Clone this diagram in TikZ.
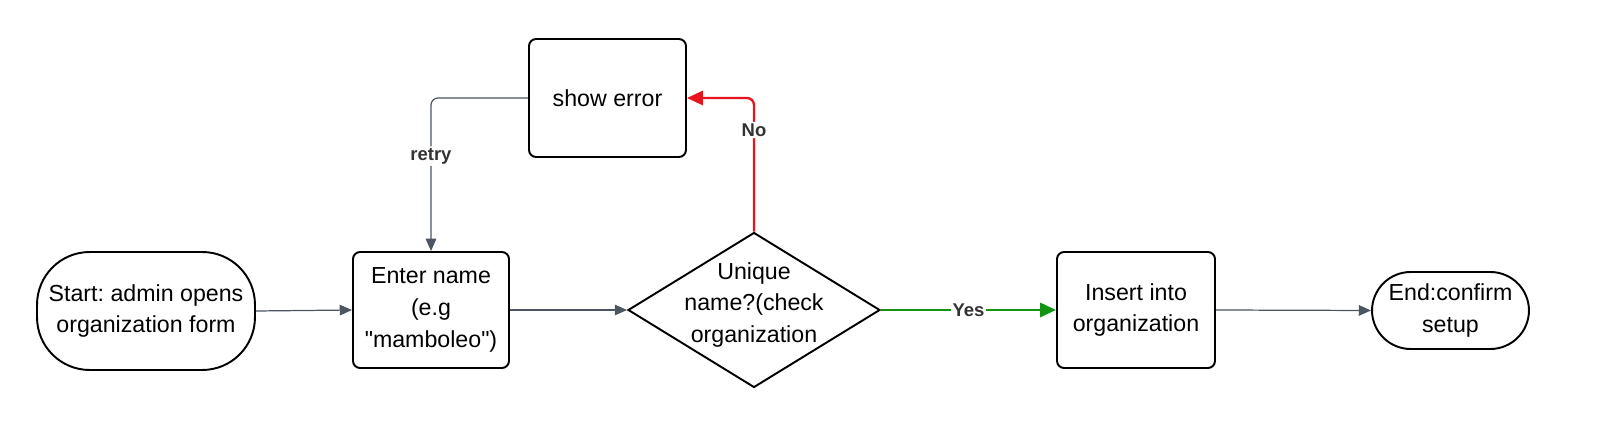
\documentclass[tikz,border=0pt]{standalone}
\usepackage{fontspec}
\setmainfont{Liberation Sans}[Ligatures=TeXOff]
\frenchspacing
\usetikzlibrary{shapes.geometric,arrows.meta}
\definecolor{edgegray}{HTML}{4B5563}
\definecolor{labgray}{HTML}{333333}
\definecolor{nored}{HTML}{E8141B}
\definecolor{yesgreen}{HTML}{139413}
\tikzset{
  txt/.style={align=center, font=\fontsize{13.2}{18}\selectfont, inner sep=0pt},
  box/.style={txt, draw=black, line width=1.1pt, rounded corners=4pt, fill=white},
  term/.style={txt, draw=black, line width=1.1pt, rounded corners=30pt, fill=white},
  dia/.style={draw=black, line width=1.1pt, diamond, fill=white, inner sep=0pt, minimum width=5.04cm, minimum height=3.1cm},
  conn/.style={draw=edgegray, line width=0.7pt, -{Triangle[length=7pt,width=6pt]}},
  lab/.style={fill=white, text=labgray, font=\fontsize{10.5}{12}\selectfont\bfseries, inner sep=1pt}
}
\begin{document}
\begin{tikzpicture}[x=0.02cm,y=-0.02cm]
\useasboundingbox (0,0) rectangle (1600,438);
\node[term, minimum width=4.36cm, minimum height=2.36cm] (start) at (146,311) {Start: admin opens\\organization form};
\node[box, minimum width=3.12cm, minimum height=2.32cm] (enter) at (431,310) {Enter name\\(e.g\\"mamboleo")};
\node[dia] (uniq) at (754,310) {};
\node[txt] (uniqtext) at (754,305) {Unique\\name?(check\\organization};
\node[box, minimum width=3.14cm, minimum height=2.36cm] (err) at (607.5,98) {show error};
\node[box, minimum width=3.16cm, minimum height=2.32cm] (ins) at (1136,310) {Insert into\\organization};
\node[term, minimum width=3.14cm, minimum height=1.54cm, rounded corners=22pt] (end) at (1450.5,310.5) {End:confirm\\setup};
\coordinate (nocorner) at (754,98);
\coordinate (retrycorner) at (431,98);
\draw[conn] (start.east) -- (enter.west);
\draw[conn] (enter.east) -- (uniq.west);
\draw[conn, draw=yesgreen, line width=1.5pt, -{Triangle[length=9pt,width=8pt]}] (uniq.east) -- node[lab, pos=0.5] {Yes} (ins.west);
\draw[conn] (ins.east) -- (end.west);
\draw[conn, draw=nored, line width=1.3pt, rounded corners=4pt, -{Triangle[length=9pt,width=8pt]}] (uniq.north) -- node[lab, pos=0.76] {No} (nocorner) -- (err.east);
\draw[conn, rounded corners=4pt] (err.west) -- (retrycorner) -- node[lab, pos=0.38] {retry} (enter.north);
\end{tikzpicture}
\end{document}
